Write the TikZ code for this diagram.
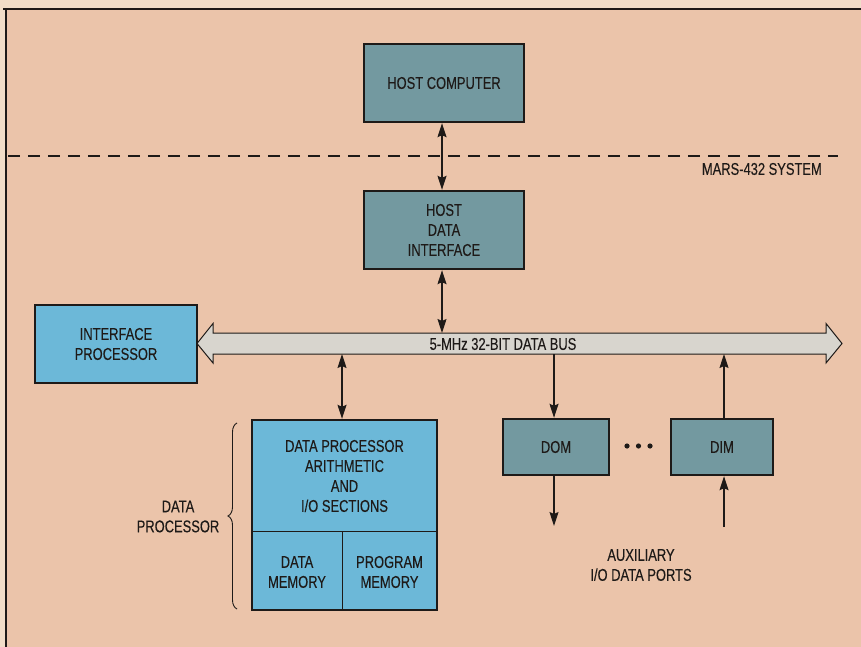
\documentclass[tikz,border=0pt]{standalone}
\usepackage{fontspec}
\setmainfont{Liberation Sans}[FakeStretch=0.76,FakeBold=0.2]
\usetikzlibrary{arrows.meta,decorations.pathreplacing}
\definecolor{paper}{HTML}{F1DDC8}
\definecolor{peach}{HTML}{EBC4AA}
\definecolor{teal}{HTML}{7399A0}
\definecolor{lblue}{HTML}{6CB8D8}
\definecolor{busgrey}{HTML}{D8D5CE}
\definecolor{ink}{HTML}{1E1A18}
\tikzset{
  every node/.style={font=\fontsize{17}{20}\selectfont, text=ink},
  tealbox/.style={draw=ink, line width=2.4pt, fill=teal, align=center, inner sep=0pt},
  bluebox/.style={draw=ink, line width=2.4pt, fill=lblue, align=center, inner sep=0pt},
  lbl/.style={align=center, inner sep=0pt},
  conn/.style={draw=ink, line width=1.2pt},
  tip/.tip={Stealth[length=14pt,width=9pt,inset=2pt]},
}
\begin{document}
\begin{tikzpicture}[x=1pt,y=-1pt]
\useasboundingbox (0,0) rectangle (861,647);
\fill[paper] (0,0) rectangle (861,647);
\fill[peach] (6,9) rectangle (861,647);
\draw[ink, line width=2pt] (3,9) -- (861,9);
\draw[ink, line width=2pt] (6,9) -- (6,647);
% dashed system boundary
\draw[ink, line width=1.1pt, dash pattern=on 12pt off 8pt] (8,156) -- (838,156);
\node[lbl, anchor=east] (sys) at (822,169) {MARS-432 SYSTEM};
% boxes
\node[tealbox, minimum width=160pt, minimum height=78pt] (host) at (444,83) {HOST COMPUTER};
\node[tealbox, minimum width=160pt, minimum height=78pt] (hdi) at (444,230) {HOST\\DATA\\INTERFACE};
\node[bluebox, minimum width=162pt, minimum height=78pt] (ip) at (116,344) {INTERFACE\\PROCESSOR};
\node[tealbox, minimum width=106pt, minimum height=56pt] (dom) at (556,447) {DOM};
\node[tealbox, minimum width=102pt, minimum height=56pt] (dim) at (722,447) {DIM};
% data processor
\node[bluebox, minimum width=185pt, minimum height=190pt] (dp) at (344.5,515) {};
\coordinate (dpL) at (252,531);
\coordinate (dpR) at (437,531);
\coordinate (dpM) at (342,531);
\coordinate (dpB) at (342,610);
\draw[ink, line width=1pt] (dpL) -- (dpR);
\draw[ink, line width=1pt] (dpM) -- (dpB);
\node[lbl] (dpa) at (344.5,476) {DATA PROCESSOR\\ARITHMETIC\\AND\\I/O SECTIONS};
\node[lbl] (dmem) at (297,572) {DATA\\MEMORY};
\node[lbl] (pmem) at (389.5,572) {PROGRAM\\MEMORY};
% brace
\coordinate (brB) at (237,609);
\coordinate (brT) at (237,423);
\draw[ink, line width=0.9pt, decorate, decoration={brace, amplitude=9pt}] (brB) -- (brT);
\node[lbl] (dplbl) at (178,516.5) {DATA\\PROCESSOR};
% bus
\draw[ink, line width=1pt, fill=busgrey]
  (197,343.5) -- (213,323.5) -- (213,333) -- (826,333) -- (826,323.5) -- (842,343.5)
  -- (826,363) -- (826,354) -- (213,354) -- (213,363) -- cycle;
\node[lbl] (bus) at (503,344) {5-MHz 32-BIT DATA BUS};
\coordinate (busA) at (442,333);
\coordinate (busB) at (342,354);
\coordinate (busC) at (554,354);
\coordinate (busD) at (724,354);
% connectors
\draw[conn, {tip}-{tip}] (host.south -| busA) -- (hdi.north -| busA);
\draw[conn, {tip}-{tip}] (hdi.south -| busA) -- (busA);
\draw[conn, {tip}-{tip}] (busB) -- (dp.north -| busB);
\draw[conn, -{tip}] (busC) -- (dom.north -| busC);
\draw[conn, -{tip}] (dim.north -| busD) -- (busD);
\coordinate (domOut) at (554,526);
\coordinate (dimIn) at (724,527);
\draw[conn, -{tip}] (dom.south -| domOut) -- (domOut);
\draw[conn, -{tip}] (dimIn) -- (dim.south -| dimIn);
% dots
\foreach \i/\xx in {1/627,2/638.5,3/650} \fill[ink] (\xx,446) circle (2.6pt);
\node[lbl] (aux) at (641,565) {AUXILIARY\\I/O DATA PORTS};
\end{tikzpicture}
\end{document}
